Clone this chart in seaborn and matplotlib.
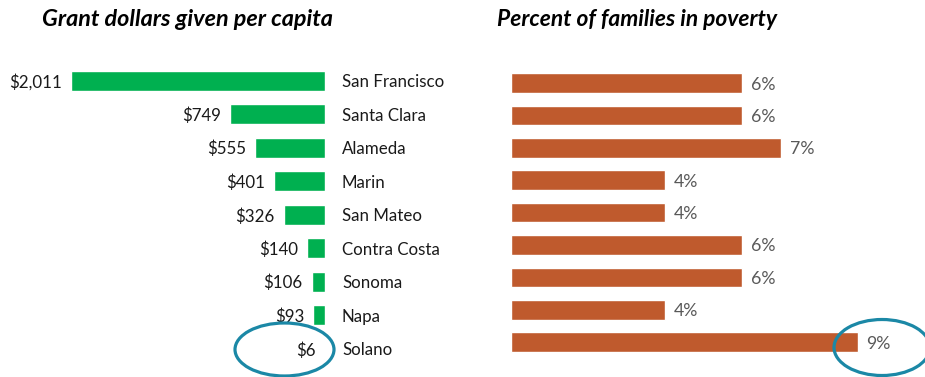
import matplotlib
matplotlib.use("Agg")
import matplotlib.pyplot as plt
from matplotlib.patches import Ellipse
import seaborn as sns
import pandas as pd

counties = ["San Francisco", "Santa Clara", "Alameda", "Marin", "San Mateo",
            "Contra Costa", "Sonoma", "Napa", "Solano"]
grant_per_capita = [2011, 749, 555, 401, 326, 140, 106, 93, 6]
poverty_pct = [6, 6, 7, 4, 4, 6, 6, 4, 9]

left_title = "Grant dollars given per capita"
right_title = "Percent of families in poverty"

GREEN = "#00B050"
ORANGE = "#BF5A2D"
TEAL = "#1B88A6"

sns.set_theme(style="white")
plt.rcParams["font.family"] = ["Lato", "DejaVu Sans"]

W, H = 925, 377
fig = plt.figure(figsize=(W / 100, H / 100), dpi=100)


def fig_rect(x0, y0, x1, y1):
    return [x0 / W, 1 - y1 / H, (x1 - x0) / W, (y1 - y0) / H]


df = pd.DataFrame({"county": counties, "grant": grant_per_capita,
                   "poverty": poverty_pct})

LABEL_SIZE = 12.2

# Left panel: grants per capita, bars growing leftwards
ax1 = fig.add_axes(fig_rect(0, 64, 325, 365.5))
sns.barplot(data=df, x="grant", y="county", color=GREEN, width=0.6,
            saturation=1, ax=ax1)
ax1.set_xlim(325 / 0.1263, 0)
ax1.set_ylim(len(counties) - 0.5, -0.5)
for i, (v, name) in enumerate(zip(grant_per_capita, counties)):
    ax1.annotate(f"${v:,}", xy=(v, i), xytext=(-6.5, 0),
                 textcoords="offset points", ha="right",
                 va="center_baseline", fontsize=LABEL_SIZE, color="#1a1a1a")
    ax1.annotate(name, xy=(0, i), xytext=(12.2, 0),
                 textcoords="offset points", ha="left",
                 va="center_baseline", fontsize=LABEL_SIZE, color="#1a1a1a",
                 annotation_clip=False)

# Right panel: family poverty rate
ax2 = fig.add_axes(fig_rect(511, 66.8, 925, 358.4))
sns.barplot(data=df, x="poverty", y="county", color=ORANGE, width=0.6,
            saturation=1, ax=ax2)
ax2.set_xlim(0, 414 / 38.5)
ax2.set_ylim(len(counties) - 0.5, -0.5)
for i, v in enumerate(poverty_pct):
    ax2.annotate(f"{v}%", xy=(v, i), xytext=(6.5, 0),
                 textcoords="offset points", ha="left",
                 va="center_baseline", fontsize=12.8, color="#595959")

for ax in (ax1, ax2):
    ax.axis("off")

fig.text(187 / W, 1 - 20 / H, left_title, ha="center", va="center",
         fontsize=16.8, fontweight="bold", fontstyle="italic", color="black")
fig.text(637 / W, 1 - 20 / H, right_title, ha="center", va="center",
         fontsize=16.4, fontweight="bold", fontstyle="italic", color="black")

# Highlight Solano on both sides
fig.add_artist(Ellipse((284.5 / W, 1 - 349.5 / H), 99 / W, 53 / H,
                       transform=fig.transFigure, fill=False,
                       edgecolor=TEAL, linewidth=2.3))
fig.add_artist(Ellipse((882 / W, 1 - 347.5 / H), 96 / W, 56 / H,
                       transform=fig.transFigure, fill=False,
                       edgecolor=TEAL, linewidth=2.3))

fig.savefig("out.png", dpi=100)
